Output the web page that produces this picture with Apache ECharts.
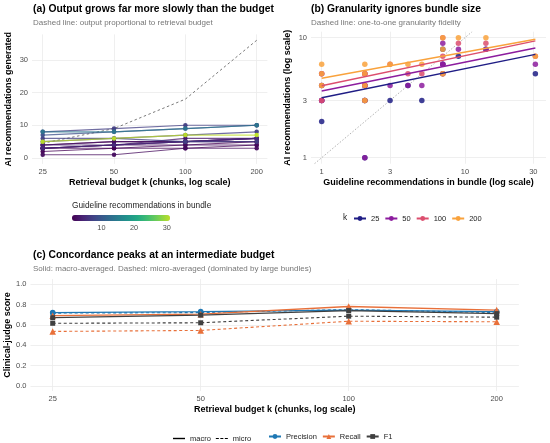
<!DOCTYPE html>
<html><head><meta charset="utf-8">
<script src="https://cdn.jsdelivr.net/npm/echarts@6/dist/echarts.min.js"></script>
<style>html,body{margin:0;padding:0;background:#fff}#c{width:550px;height:443px}</style>
</head><body><div id="c"></div>
<script>
// ---------- data ----------
const budgets = [25, 50, 100, 200];
// guideline bundles: size and AI recommendations generated at each budget
const bundleSize = [1, 1, 1, 2, 2, 2, 2, 3, 4, 5, 7, 7, 7, 9, 14, 31];
const recsK25    = [2, 3, 4, 1, 3, 4, 3, 3, 4, 3, 8, 5, 6, 7, 8, 5];
const recsK50    = [3, 3, 5, 1, 4, 5, 4, 4, 4, 4, 9, 6, 6, 8, 8, 6];
const recsK100   = [3, 4, 5, 3, 4, 5, 5, 6, 5, 5, 10, 7, 5, 9, 9, 7];
const recsK200   = [4, 5, 6, 3, 4, 6, 5, 6, 6, 6, 10, 8, 5, 10, 10, 7];
const proportional = [4.5, 9, 18, 36];
const kLabels = ['25', '50', '100', '200'];
// fitted log-log lines per budget (value at smallest and largest bundle)
const fitAtMin = [3.16, 3.6, 3.98, 4.59];
const fitAtMax = [7.27, 8.2, 9.4, 9.7];
// panel (c)
const precisionMacro = [0.72, 0.73, 0.745, 0.73];
const precisionMicro = [0.715, 0.72, 0.75, 0.72];
const recallMacro    = [0.69, 0.705, 0.78, 0.745];
const recallMicro    = [0.535, 0.545, 0.635, 0.63];
const f1Macro        = [0.67, 0.695, 0.74, 0.71];
const f1Micro        = [0.615, 0.62, 0.685, 0.675];
// tick labels
const aYTicks = [0, 10, 20, 30];
const bXTicks = [1, 3, 10, 30];
const bYTicks = [1, 3, 10];
const cYTicks = [0, 0.2, 0.4, 0.6, 0.8, 1.0];
const cbTicks = [10, 20, 30];

// ---------- style ----------
const FONT = '"Liberation Sans", Arial, Helvetica, sans-serif';
const viridis = ['#440154','#482475','#414487','#355f8d','#2a788e','#21918c','#22a884','#44bf70','#7ad151','#bddf26'];
const kColors = ['#1f1d85', '#8c1c9e', '#dc4e6e', '#f9a23c'];
const metricColors = {Precision: '#1f78b4', Recall: '#e8703a', F1: '#404040'};
const gridLine = {show: true, lineStyle: {color: '#ebebeb', width: 0.8}};
const tickText = {color: '#4d4d4d', fontSize: 7.5, fontFamily: FONT};
const nameText = {color: '#000', fontSize: 9, fontWeight: 'bold', fontFamily: FONT};

const recsByK = [recsK25, recsK50, recsK100, recsK200];
const cbMin = Math.min(...bundleSize), cbMax = Math.max(...bundleSize);
const pad2 = Math.pow(2, 0.15);

function logAxis(grid, base, min, max, ticks, name, gap, fmt) {
  return {
    gridIndex: grid, type: 'log', logBase: base, min: min, max: max,
    axisLine: {show: false}, axisTick: {show: false, customValues: ticks},
    axisLabel: Object.assign({customValues: ticks, margin: 4, formatter: fmt || (v => String(Math.round(v)))}, tickText),
    splitLine: Object.assign({customValues: ticks}, gridLine),
    minorSplitLine: {show: false},
    name: name, nameLocation: 'middle', nameGap: gap, nameMoveOverlap: false, nameTextStyle: nameText
  };
}
function valAxis(grid, min, max, ticks, name, gap, fmt) {
  return {
    gridIndex: grid, type: 'value', min: min, max: max,
    axisLine: {show: false}, axisTick: {show: false, customValues: ticks},
    axisLabel: Object.assign({customValues: ticks, margin: 4, formatter: fmt || (v => String(v))}, tickText),
    splitLine: Object.assign({customValues: ticks}, gridLine),
    name: name, nameLocation: 'middle', nameGap: gap, nameMoveOverlap: false, nameTextStyle: nameText
  };
}

const series = [];
// (a) one line per bundle
bundleSize.forEach((n, i) => {
  const col = echarts.color.lerp((n - cbMin) / (cbMax - cbMin), viridis);
  series.push({
    type: 'line', xAxisIndex: 0, yAxisIndex: 0,
    data: budgets.map((k, j) => [k, recsByK[j][i]]),
    symbol: 'circle', symbolSize: 4.5, showSymbol: true,
    lineStyle: {color: col, width: 1.1, opacity: 0.75},
    itemStyle: {color: col, opacity: 0.95}, z: 3, silent: true
  });
});
series.push({
  type: 'line', xAxisIndex: 0, yAxisIndex: 0, name: 'proportional',
  data: budgets.map((k, j) => [k, proportional[j]]), symbol: 'none',
  lineStyle: {color: '#7a7a7a', width: 1, type: [2.5, 2.5]}, z: 2, silent: true
});
series.push({
  type: 'scatter', xAxisIndex: 0, yAxisIndex: 0, data: [[120, 30]], symbolSize: 1,
  itemStyle: {opacity: 0}, silent: true,
  label: {show: true, position: 'inside', formatter: 'proportional to k', fontStyle: 'italic',
          color: '#808080', fontSize: 8, fontFamily: FONT}
});
// (b) scatter per budget
kLabels.forEach((lab, j) => {
  series.push({
    type: 'scatter', xAxisIndex: 1, yAxisIndex: 1, name: 'pts' + lab,
    data: bundleSize.map((n, i) => [n, recsByK[j][i]]), symbolSize: 5.5,
    itemStyle: {color: kColors[j], opacity: 0.85}, z: 3, silent: true
  });
});
kLabels.forEach((lab, j) => {
  series.push({
    type: 'line', xAxisIndex: 1, yAxisIndex: 1, name: lab,
    data: [[cbMin, fitAtMin[j]], [cbMax, fitAtMax[j]]],
    symbol: 'circle', showSymbol: false, symbolSize: 5,
    lineStyle: {color: kColors[j], width: 1.4}, itemStyle: {color: kColors[j]}, z: 4, silent: true
  });
});
const bYMin = Math.pow(10, -0.05), bYMax = Math.pow(10, 1.05);
series.push({
  type: 'line', xAxisIndex: 1, yAxisIndex: 1, name: 'one-to-one',
  data: [[bYMin, bYMin], [bYMax, bYMax]], symbol: 'none',
  lineStyle: {color: '#a8a8a8', width: 0.9, type: [1.5, 1.8]}, z: 2, silent: true
});
// (c)
const metrics = [['Precision', precisionMacro, precisionMicro, 'circle', 5.5],
                 ['Recall', recallMacro, recallMicro, 'triangle', 6.5],
                 ['F1', f1Macro, f1Micro, 'rect', 5]];
metrics.forEach(([nm, mac, mic, sym, sz]) => {
  series.push({
    type: 'line', xAxisIndex: 2, yAxisIndex: 2, name: nm + ' micro',
    data: budgets.map((k, j) => [k, mic[j]]), symbol: sym, symbolSize: sz,
    lineStyle: {color: metricColors[nm], width: 1.1, type: [3, 2.5]},
    itemStyle: {color: metricColors[nm]}, z: 3, silent: true
  });
});
metrics.forEach(([nm, mac, mic, sym, sz]) => {
  series.push({
    type: 'line', xAxisIndex: 2, yAxisIndex: 2, name: nm,
    data: budgets.map((k, j) => [k, mac[j]]), symbol: sym, symbolSize: sz,
    lineStyle: {color: metricColors[nm], width: 1.3},
    itemStyle: {color: metricColors[nm]}, z: 4, silent: true
  });
});
['macro', 'micro'].forEach(nm => {
  series.push({type: 'line', xAxisIndex: 2, yAxisIndex: 2, name: nm, data: [], symbol: 'none',
               lineStyle: {color: '#000'}, itemStyle: {color: '#000'}});
});

const option = {
  backgroundColor: '#fff',
  animation: false,
  textStyle: {fontFamily: FONT},
  title: [
    {text: '(a) Output grows far more slowly than the budget', left: 33, top: 3.5, padding: 0, itemGap: 2.5,
     textStyle: {fontSize: 10.3, fontWeight: 'bold', color: '#000', lineHeight: 12},
     subtext: 'Dashed line: output proportional to retrieval budget',
     subtextStyle: {fontSize: 8, color: '#777', lineHeight: 10}},
    {text: '(b) Granularity ignores bundle size', left: 311, top: 3.5, padding: 0, itemGap: 2.5,
     textStyle: {fontSize: 10.3, fontWeight: 'bold', color: '#000', lineHeight: 12},
     subtext: 'Dashed line: one-to-one granularity fidelity',
     subtextStyle: {fontSize: 8, color: '#777', lineHeight: 10}},
    {text: '(c) Concordance peaks at an intermediate budget', left: 33, top: 249.5, padding: 0, itemGap: 2.5,
     textStyle: {fontSize: 10.3, fontWeight: 'bold', color: '#000', lineHeight: 12},
     subtext: 'Solid: macro-averaged. Dashed: micro-averaged (dominated by large bundles)',
     subtextStyle: {fontSize: 8, color: '#777', lineHeight: 10}},
    {text: 'Guideline recommendations in bundle', left: 72, top: 201, padding: 0,
     textStyle: {fontSize: 8.3, fontWeight: 'normal', color: '#222', lineHeight: 10}},
    {text: 'k', left: 343, top: 212.5, padding: 0,
     textStyle: {fontSize: 8.3, fontWeight: 'normal', color: '#222', lineHeight: 10}}
  ],
  grid: [
    {left: 32, top: 34.4, width: 235.4, height: 129.5, containLabel: false, outerBoundsMode: 'none'},
    {left: 311, top: 31.7, width: 235, height: 132, containLabel: false, outerBoundsMode: 'none'},
    {left: 30.5, top: 279, width: 488.4, height: 112, containLabel: false, outerBoundsMode: 'none'},
    {left: 72, top: 215, width: 98, height: 6, containLabel: false, outerBoundsMode: 'none'}
  ],
  xAxis: [
    logAxis(0, 2, budgets[0] / pad2, budgets[3] * pad2, budgets, 'Retrieval budget k (chunks, log scale)', 14.5),
    logAxis(1, 10, Math.pow(10, -0.0746), Math.pow(10, 1.5656), bXTicks, 'Guideline recommendations in bundle (log scale)', 14.5),
    logAxis(2, 2, budgets[0] / pad2, budgets[3] * pad2, budgets, 'Retrieval budget k (chunks, log scale)', 14.5),
    {gridIndex: 3, type: 'value', min: cbMin, max: cbMax, axisLine: {show: false},
     axisTick: {show: false, customValues: cbTicks}, splitLine: {show: false},
     axisLabel: Object.assign({customValues: cbTicks, margin: 3}, tickText, {fontSize: 7.3})}
  ],
  yAxis: [
    valAxis(0, -1.8, 37.8, aYTicks, 'AI recommendations generated', 18.5),
    logAxis(1, 10, bYMin, bYMax, bYTicks, 'AI recommendations (log scale)', 18.5),
    valAxis(2, -0.05, 1.05, cYTicks, 'Clinical-judge score', 18.5, v => v.toFixed(1)),
    {gridIndex: 3, type: 'value', show: false, min: 0, max: 1}
  ],
  visualMap: [{
    type: 'continuous', min: cbMin, max: cbMax, orient: 'horizontal', left: 72, top: 215,
    itemWidth: 6, itemHeight: 98, calculable: false, hoverLink: false, padding: 0,
    seriesIndex: [], inRange: {color: viridis}, text: null, showLabel: false
  }],
  legend: [
    {data: kLabels, left: 353, top: 214.5, orient: 'horizontal', itemWidth: 12, itemHeight: 6, itemGap: 5,
     padding: 0, textStyle: {fontSize: 7.5, color: '#222', fontFamily: FONT}, selectedMode: false},
    {data: [{name: 'macro', icon: 'rect'},
            {name: 'micro', icon: 'path://M0,0h3v1h-3z M4.5,0h3v1h-3z M9,0h3v1h-3z'}],
     left: 173, top: 434.5, itemWidth: 12, itemHeight: 1.4, itemGap: 5, padding: 0,
     textStyle: {fontSize: 7.5, color: '#222', fontFamily: FONT}, selectedMode: false},
    {data: ['Precision', 'Recall', 'F1'], left: 268, top: 432.5, itemWidth: 12, itemHeight: 6, itemGap: 5,
     padding: 0, textStyle: {fontSize: 7.5, color: '#222', fontFamily: FONT}, selectedMode: false}
  ],
  series: series
};
const chart = echarts.init(document.getElementById('c'));
chart.setOption(option);
</script></body></html>
